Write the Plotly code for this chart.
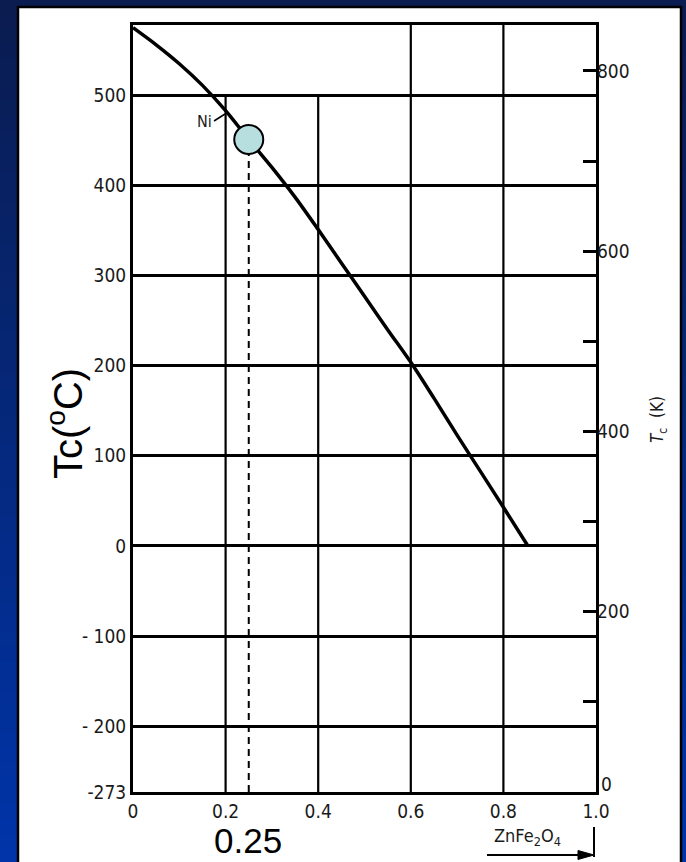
import plotly.graph_objects as go

# ---------------- data ----------------
zn_fraction = [0.0, 0.05, 0.10, 0.15, 0.20, 0.25, 0.30, 0.35, 0.40, 0.45, 0.50, 0.55, 0.605, 0.65, 0.70, 0.75, 0.80, 0.853]
tc_celsius = [575, 556, 535, 511, 483, 451, 420, 387, 351, 314, 277, 240, 200, 164, 123, 83, 43, 0]

marker_x = [0.25]
marker_tc = [451]

x_ticks = [0.0, 0.2, 0.4, 0.6, 0.8, 1.0]
x_ticktext = ["0", "0.2", "0.4", "0.6", "0.8", "1.0"]
y_ticks = [-273, -200, -100, 0, 100, 200, 300, 400, 500]
y_ticktext = ["-273", "- 200", "- 100", "0", "100", "200", "300", "400", "500"]
k_ticks = [200, 400, 600, 800]
k_ticktext = ["200", "400", "600", "800"]
k_minor_ticks = [100, 300, 500, 700]
k_zero_label = "0"
full_vgrid = [0.6, 0.8]
short_vgrid = [0.2, 0.4]
short_vgrid_top = 500

Y_MIN, Y_MAX = -273, 578

# ---------------- layout helpers ----------------
W, H = 686, 862
L, R, T, B = 133, 596, 25, 792


def px(xp):
    return (xp - L) / (R - L)


def py(yp):
    return (B - yp) / (B - T)


fig = go.Figure()

fig.add_trace(go.Scatter(
    x=zn_fraction, y=tc_celsius, mode="lines",
    line=dict(color="black", width=3.5, shape="spline", smoothing=0.8),
    hoverinfo="skip", showlegend=False))

fig.add_trace(go.Scatter(
    x=marker_x, y=marker_tc, mode="markers",
    marker=dict(size=29, color="#b8dfe0", line=dict(color="black", width=2)),
    showlegend=False))

# invisible trace to anchor the Kelvin axis
fig.add_trace(go.Scatter(
    x=zn_fraction, y=[t + 273 for t in tc_celsius], yaxis="y2",
    mode="lines", line=dict(width=0), opacity=0, hoverinfo="skip", showlegend=False))

shapes = []
# blue gradient background
n = 60
top_c = (10, 28, 80)
bot_c = (0, 52, 168)
for i in range(n):
    f = i / (n - 1)
    c = tuple(int(round(top_c[k] + (bot_c[k] - top_c[k]) * f)) for k in range(3))
    y0p = H * i / n
    y1p = H * (i + 1) / n + 1
    shapes.append(dict(type="rect", xref="paper", yref="paper",
                       x0=px(-2), x1=px(W + 2), y0=py(y1p), y1=py(y0p),
                       fillcolor="rgb(%d,%d,%d)" % c, line=dict(width=0), layer="below"))
# white panel
shapes.append(dict(type="rect", xref="paper", yref="paper",
                   x0=px(18), x1=px(681), y0=py(H + 10), y1=py(7),
                   fillcolor="white", line=dict(color="black", width=2.5), layer="below"))

# vertical grid lines
for xv in full_vgrid:
    shapes.append(dict(type="line", xref="x", yref="y", x0=xv, x1=xv, y0=Y_MIN, y1=Y_MAX,
                       line=dict(color="black", width=2.2), layer="below"))
for xv in short_vgrid:
    shapes.append(dict(type="line", xref="x", yref="y", x0=xv, x1=xv, y0=Y_MIN, y1=short_vgrid_top,
                       line=dict(color="black", width=2.2), layer="below"))
# dashed guide from marker down
shapes.append(dict(type="line", xref="x", yref="y", x0=marker_x[0], x1=marker_x[0],
                   y0=Y_MIN, y1=marker_tc[0] - 14, line=dict(color="black", width=2, dash="7px,5px"),
                   layer="below"))
# Ni leader
shapes.append(dict(type="line", xref="paper", yref="paper", x0=px(214), x1=px(225),
                   y0=py(121), y1=py(114), line=dict(color="black", width=1.5)))
# ZnFe2O4 bracket and arrow
shapes.append(dict(type="line", xref="paper", yref="paper", x0=px(594), x1=px(594),
                   y0=py(857), y1=py(827), line=dict(color="black", width=2)))
shapes.append(dict(type="line", xref="paper", yref="paper", x0=px(487), x1=px(586),
                   y0=py(855), y1=py(855), line=dict(color="black", width=2)))
shapes.append(dict(type="path", xref="paper", yref="paper",
                   path="M %f,%f L %f,%f L %f,%f Z" % (px(594), py(855), px(578), py(850.5),
                                                      px(578), py(859.5)),
                   fillcolor="black", line=dict(color="black", width=1)))

fig.update_layout(shapes=shapes)

tick_font = dict(family="DejaVu Sans Condensed, Liberation Sans Narrow, sans-serif", size=19, color="#1a1a1a")
small_font = dict(family="DejaVu Sans Condensed, sans-serif", size=16, color="#1a1a1a")


def note(text, xp, yp, **kw):
    d = dict(text=text, x=px(xp), y=py(yp), xref="paper", yref="paper",
             xanchor="center", yanchor="middle", showarrow=False)
    d.update(kw)
    return d


annotations = [
    note("Tc(<sup>o</sup>C)", 65, 424, textangle=-90,
         font=dict(family="Liberation Sans, Arial, sans-serif", size=40, color="black")),
    note("0.25", 248, 840,
         font=dict(family="Liberation Sans, Arial, sans-serif", size=35, color="black")),
    note("Ni", 204, 122, font=small_font),
    note("<i>T</i><sub>c</sub>  (K)", 659, 420, textangle=-90,
         font=dict(family="DejaVu Sans Condensed, sans-serif", size=17, color="#1a1a1a")),
    note("ZnFe<sub>2</sub>O<sub>4</sub>", 527, 837,
         font=dict(family="DejaVu Sans Condensed, sans-serif", size=18, color="#1a1a1a")),
    note(k_zero_label, 606, 784, font=tick_font),
]
fig.update_layout(annotations=annotations)

fig.update_layout(
    width=W, height=H, autosize=False,
    margin=dict(l=L, r=W - R, t=T, b=H - B, pad=0),
    paper_bgcolor="#0b1d52", plot_bgcolor="white",
    showlegend=False,
    xaxis=dict(range=[0, 1], tickvals=x_ticks, ticktext=x_ticktext, showgrid=False,
               zeroline=False, showline=True, mirror=True, linecolor="black", linewidth=3,
               ticks="", tickfont=tick_font, fixedrange=True),
    yaxis=dict(range=[Y_MIN, Y_MAX], tickvals=y_ticks, ticktext=y_ticktext, showgrid=True,
               gridcolor="black", gridwidth=2.5, zeroline=True, zerolinecolor="black", zerolinewidth=2.5,
               showline=True, mirror=True, linecolor="black", linewidth=3, ticks="",
               tickfont=tick_font, fixedrange=True),
    yaxis2=dict(range=[Y_MIN + 273, Y_MAX + 273], overlaying="y", side="right",
                tickvals=k_ticks, ticktext=k_ticktext, ticks="inside", ticklen=13, tickwidth=3,
                tickcolor="black", showgrid=False, zeroline=False, showline=False,
                minor=dict(tickvals=k_minor_ticks, ticks="inside", ticklen=13, tickwidth=3,
                           tickcolor="black", showgrid=False),
                tickfont=tick_font, fixedrange=True),
)

fig.write_html("out.html")
